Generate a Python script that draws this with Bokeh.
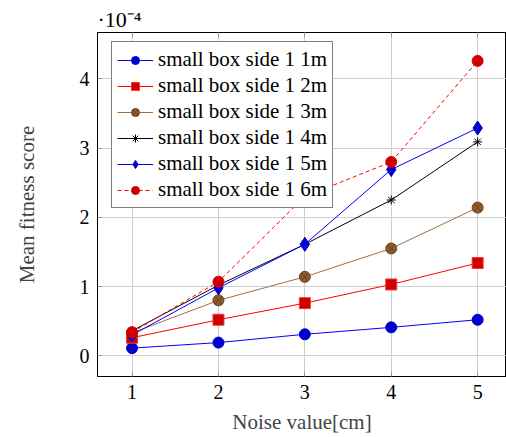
from bokeh.plotting import figure
from bokeh.models import (Range1d, FixedTicker, LinearAxis, Legend, LegendItem, Title)
from bokeh.embed import file_html
from bokeh.resources import INLINE

# Data (mean fitness score in units of 1e-4)
noise = [1, 2, 3, 4, 5]
s_1m = [0.11, 0.19, 0.31, 0.41, 0.52]
s_2m = [0.26, 0.52, 0.76, 1.03, 1.34]
s_3m = [0.33, 0.80, 1.14, 1.55, 2.14]
s_4m = [0.36, 1.02, 1.61, 2.25, 3.09]
s_5m = [0.30, 0.98, 1.61, 2.69, 3.29]
s_6m = [0.34, 1.07, 2.30, 2.80, 4.26]
names = ["small box side 1 1m", "small box side 1 2m", "small box side 1 3m",
         "small box side 1 4m", "small box side 1 5m", "small box side 1 6m"]
x_ticks = [1, 2, 3, 4, 5]
y_ticks = [0, 1, 2, 3, 4]

FONT = "Liberation Serif"

p = figure(width=506, height=437, output_backend="svg", toolbar_location=None,
           x_range=Range1d(0.6, 5.334), y_range=Range1d(-0.30, 4.67),
           min_border_left=97, min_border_right=0, min_border_top=32, min_border_bottom=61)
p.background_fill_color = "white"
p.border_fill_color = "white"
p.outline_line_color = "black"
p.outline_line_width = 1

for ax in (p.xaxis[0], p.yaxis[0]):
    ax.major_label_text_font = FONT
    ax.major_label_text_font_size = "20px"
    ax.major_label_text_color = "black"
    ax.axis_label_text_font = FONT
    ax.axis_label_text_font_size = "21px"
    ax.axis_label_text_font_style = "normal"
    ax.major_tick_in = 5
    ax.major_tick_out = 0
    ax.minor_tick_line_color = None
    ax.major_tick_line_color = "#999999"
    ax.axis_line_color = "black"
    ax.major_label_standoff = 8

p.xaxis[0].ticker = FixedTicker(ticks=x_ticks)
p.yaxis[0].ticker = FixedTicker(ticks=y_ticks)
p.xaxis[0].axis_label = "Noise value[cm]"
p.yaxis[0].axis_label = "Mean fitness score"
p.xaxis[0].axis_label_standoff = 8
p.yaxis[0].axis_label_standoff = 38

top = LinearAxis(ticker=FixedTicker(ticks=x_ticks),
                 major_label_overrides={t: "" for t in x_ticks},
                 major_label_text_font_size="1px",
                 major_tick_in=5, major_tick_out=0, minor_tick_line_color=None,
                 major_tick_line_color="#999999", axis_line_color="black",
                 major_label_standoff=0)
p.add_layout(top, "above")

# exponent marker above the y axis
p.add_layout(Title(text="·10⁻⁴", align="left", offset=0, standoff=2,
                   text_font=FONT, text_font_size="22px", text_font_style="normal",
                   text_color="black"), "above")

p.xgrid.ticker = FixedTicker(ticks=x_ticks)
p.ygrid.ticker = FixedTicker(ticks=y_ticks)
p.grid.grid_line_color = "#d0d0d0"
p.grid.grid_line_width = 1

styles = [
    dict(data=s_1m, color="#0000ff", marker="circle", fill="#0000cc", mline="#0000cc", size=11, dash="solid"),
    dict(data=s_2m, color="#ff0000", marker="square", fill="#cc0000", mline="#ff3333", size=11, dash="solid"),
    dict(data=s_3m, color="#a0703f", marker="circle_x", fill="#8c5a2b", mline="#6b4220", size=11, dash="solid"),
    dict(data=s_4m, color="#000000", marker="asterisk", fill="#000000", mline="#000000", size=9, dash="solid"),
    dict(data=s_5m, color="#0000ff", marker="diamond", fill="#0000cc", mline="#0000cc", size=14, dash="solid"),
    dict(data=s_6m, color="#ff0000", marker="circle", fill="#cc0000", mline="#dd0000", size=11, dash="4 3"),
]

items = []
for name, st in zip(names, styles):
    ln = p.line(noise, st["data"], line_color=st["color"], line_width=1, line_dash=st["dash"])
    sc = p.scatter(noise, st["data"], marker=st["marker"], size=st["size"],
                   fill_color=st["fill"], line_color=st["mline"], line_width=1)
    items.append(LegendItem(label=name, renderers=[ln, sc]))

legend = Legend(items=items, location=(14, 168))
legend.label_text_font = FONT
legend.label_text_font_size = "21px"
legend.label_text_color = "black"
legend.border_line_color = "black"
legend.border_line_width = 1
legend.background_fill_color = "white"
legend.background_fill_alpha = 1.0
legend.glyph_width = 36
legend.glyph_height = 20
legend.label_height = 20
legend.label_standoff = 5
legend.spacing = 1
legend.padding = 5
legend.margin = 0
p.add_layout(legend, "center")

open("out.html", "w").write(file_html(p, INLINE))
